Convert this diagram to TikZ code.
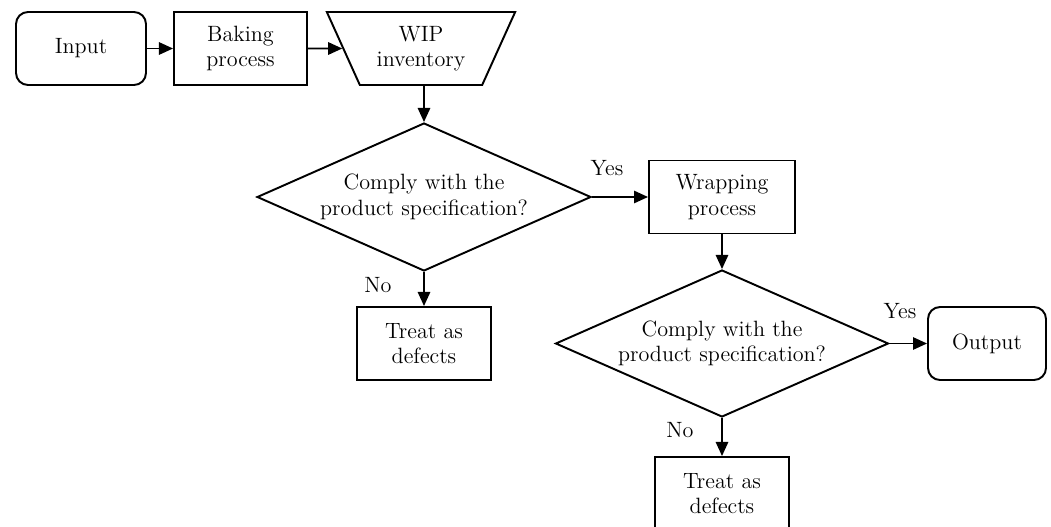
\documentclass[tikz,border=0pt]{standalone}
\usetikzlibrary{shapes.geometric,arrows.meta}

\tikzset{
  base/.style={draw, line width=1.1pt, align=center, font=\fontsize{12.6}{14.5}\selectfont, inner sep=2pt},
  term/.style={base, rectangle, rounded corners=0.24cm, minimum height=1.46cm},
  procbox/.style={base, rectangle, minimum height=1.46cm},
  store/.style={base, trapezium, trapezium stretches=true, shape border rotate=180,
                trapezium left angle=63.7, trapezium right angle=63.7,
                minimum width=3.78cm, minimum height=1.46cm},
  decision/.style={base, diamond, aspect=2.25, minimum width=6.68cm, minimum height=2.96cm, inner sep=0pt},
  lbl/.style={font=\fontsize{12.6}{14.5}\selectfont},
  flow/.style={line width=1.1pt, -{Triangle[length=8pt, width=7pt]}}
}

\begin{document}
\begin{tikzpicture}[x=0.02cm, y=-0.02cm]
  \useasboundingbox (0,0) rectangle (1051,527);

  % top row
  \node[term, minimum width=2.6cm] (input) at (81,48.5) {Input};
  \node[procbox, minimum width=2.66cm] (bake) at (240.5,48.5) {Baking\\process};
  \node[store] (wip) at (421,48.5) {WIP\\inventory};

  % first check
  \node[decision] (chk1) at (424,197) {Comply with the\\product specification?};
  \node[procbox, minimum width=2.68cm] (def1) at (424,343.5) {Treat as\\defects};
  \node[procbox, minimum width=2.92cm] (wrap) at (722,197) {Wrapping\\process};

  % second check
  \node[decision, minimum width=6.66cm, minimum height=2.94cm] (chk2) at (722,343.5) {Comply with the\\product specification?};
  \node[term, minimum width=2.36cm] (out) at (987,343.5) {Output};
  \node[procbox, minimum width=2.68cm] (def2) at (722,493.5) {Treat as\\defects};

  % connectors
  \draw[flow] (input) -- (bake);
  \draw[flow] (bake) -- (wip);
  \draw[flow] (wip.south -| chk1.north) -- (chk1.north);
  \draw[flow] (chk1.east) -- (wrap.west);
  \draw[flow] (chk1.south) -- (def1.north);
  \draw[flow] (wrap.south) -- (chk2.north);
  \draw[flow] (chk2.east) -- (out.west);
  \draw[flow] (chk2.south) -- (def2.north);

  % branch labels
  \node[lbl] (yes1) at (607,168) {Yes};
  \node[lbl] (no1) at (378,285) {No};
  \node[lbl] (yes2) at (900,311) {Yes};
  \node[lbl] (no2) at (680,430) {No};
\end{tikzpicture}
\end{document}
